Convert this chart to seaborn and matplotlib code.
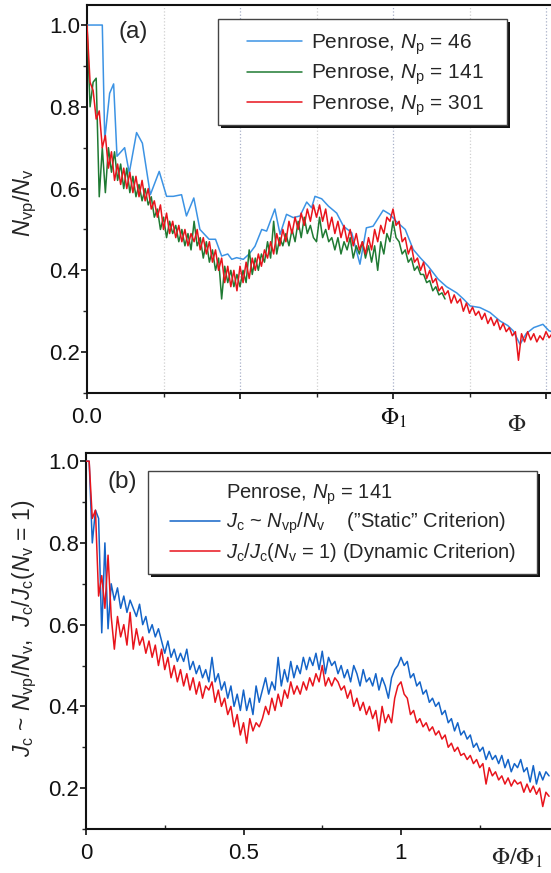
import numpy as np
import pandas as pd
import matplotlib
matplotlib.use("Agg")
import matplotlib.pyplot as plt
import seaborn as sns
from matplotlib.patches import Rectangle
from matplotlib.lines import Line2D

# ---------------- data ----------------
# panel (a): Penrose, Np = 46 (irregular x)
blue_a_x = [0.0, 0.022, 0.050, 0.058, 0.074, 0.087, 0.098, 0.123, 0.138, 0.162,
            0.181, 0.207, 0.236, 0.260, 0.282, 0.309, 0.325, 0.349, 0.369, 0.399,
            0.420, 0.440, 0.460, 0.473, 0.489, 0.511, 0.530, 0.549, 0.571, 0.587,
            0.614, 0.631, 0.652, 0.674, 0.696, 0.718, 0.734, 0.745, 0.767, 0.789,
            0.816, 0.838, 0.865, 0.892, 0.913, 0.935, 0.968, 0.990, 1.010, 1.040,
            1.066, 1.090, 1.115, 1.148, 1.175, 1.208, 1.230, 1.252, 1.284, 1.317,
            1.350, 1.375, 1.393, 1.415, 1.435, 1.460, 1.490, 1.510, 1.520]
blue_a_y = [1.0, 1.0, 1.0, 0.72, 0.833, 0.856, 0.679, 0.70, 0.638, 0.737,
            0.711, 0.585, 0.642, 0.581, 0.581, 0.585, 0.533, 0.577, 0.50, 0.476,
            0.476, 0.435, 0.44, 0.427, 0.431, 0.427, 0.44, 0.459, 0.50, 0.496,
            0.55, 0.488, 0.537, 0.529, 0.533, 0.567, 0.553, 0.581, 0.575, 0.557,
            0.54, 0.508, 0.492, 0.415, 0.504, 0.508, 0.547, 0.537, 0.52, 0.50,
            0.451, 0.43, 0.41, 0.378, 0.36, 0.345, 0.33, 0.313, 0.309, 0.297,
            0.276, 0.265, 0.252, 0.219, 0.245, 0.26, 0.268, 0.252, 0.25]

# panel (a): Penrose, Np = 141 (x step 0.01 from 0)
green_a = [1.00, 0.80, 0.86, 0.87, 0.58, 0.70, 0.59, 0.70, 0.64, 0.69,
           0.62, 0.66, 0.60, 0.65, 0.59, 0.63, 0.58, 0.61, 0.57, 0.60,
           0.56, 0.58, 0.53, 0.55, 0.50, 0.53, 0.48, 0.52, 0.49, 0.51,
           0.47, 0.50, 0.46, 0.49, 0.45, 0.52, 0.46, 0.48, 0.43, 0.47,
           0.42, 0.45, 0.40, 0.43, 0.33, 0.41, 0.37, 0.40, 0.36, 0.39,
           0.36, 0.40, 0.37, 0.45, 0.39, 0.43, 0.40, 0.44, 0.42, 0.47,
           0.43, 0.52, 0.44, 0.48, 0.46, 0.49, 0.46, 0.50, 0.47, 0.52,
           0.48, 0.53, 0.49, 0.51, 0.48, 0.47, 0.53, 0.48, 0.50, 0.47,
           0.48, 0.45, 0.48, 0.44, 0.47, 0.45, 0.48, 0.43, 0.46, 0.44,
           0.47, 0.43, 0.46, 0.42, 0.46, 0.40, 0.47, 0.44, 0.49, 0.47,
           0.52, 0.48, 0.47, 0.44, 0.45, 0.42, 0.43, 0.40, 0.41, 0.39,
           0.39, 0.37, 0.375, 0.35, 0.36, 0.34, 0.345, 0.33]

# panel (a): Penrose, Np = 301 (x step 0.01 from 0)
red_a = [1.00, 0.86, 0.84, 0.77, 0.79, 0.70, 0.73, 0.65, 0.69, 0.62,
         0.66, 0.61, 0.65, 0.60, 0.64, 0.59, 0.63, 0.58, 0.62, 0.57,
         0.60, 0.55, 0.57, 0.53, 0.56, 0.50, 0.54, 0.49, 0.52, 0.48,
         0.51, 0.47, 0.50, 0.46, 0.49, 0.47, 0.50, 0.45, 0.48, 0.44,
         0.47, 0.42, 0.45, 0.40, 0.43, 0.37, 0.41, 0.36, 0.40, 0.35,
         0.41, 0.37, 0.42, 0.38, 0.43, 0.40, 0.44, 0.41, 0.45, 0.43,
         0.47, 0.44, 0.49, 0.46, 0.50, 0.47, 0.52, 0.49, 0.53, 0.50,
         0.54, 0.51, 0.55, 0.52, 0.56, 0.53, 0.56, 0.52, 0.55, 0.50,
         0.53, 0.49, 0.52, 0.48, 0.51, 0.47, 0.50, 0.46, 0.49, 0.45,
         0.47, 0.44, 0.48, 0.45, 0.50, 0.47, 0.51, 0.49, 0.53, 0.52,
         0.55, 0.51, 0.52, 0.47, 0.48, 0.44, 0.46, 0.42, 0.43, 0.40,
         0.42, 0.38, 0.40, 0.37, 0.38, 0.35, 0.36, 0.34, 0.35, 0.32,
         0.34, 0.32, 0.33, 0.30, 0.32, 0.295, 0.31, 0.29, 0.30, 0.28,
         0.295, 0.27, 0.285, 0.265, 0.28, 0.255, 0.27, 0.25, 0.26, 0.24,
         0.25, 0.18, 0.245, 0.225, 0.25, 0.23, 0.245, 0.225, 0.24, 0.23,
         0.25, 0.235, 0.245]

# panel (b): Np = 141, static and dynamic criteria (x step 0.01 from 0)
blue_b = [1.00, 1.00, 0.80, 0.88, 0.86, 0.58, 0.80, 0.59, 0.70, 0.66,
          0.69, 0.64, 0.67, 0.63, 0.66, 0.64, 0.62, 0.65, 0.60, 0.62,
          0.58, 0.60, 0.57, 0.59, 0.56, 0.53, 0.56, 0.52, 0.54, 0.51,
          0.53, 0.51, 0.54, 0.49, 0.51, 0.48, 0.50, 0.47, 0.49, 0.46,
          0.52, 0.46, 0.48, 0.44, 0.46, 0.42, 0.45, 0.40, 0.43, 0.39,
          0.44, 0.39, 0.42, 0.38, 0.45, 0.41, 0.44, 0.47, 0.43, 0.46,
          0.44, 0.52, 0.45, 0.49, 0.46, 0.51, 0.47, 0.50, 0.48, 0.52,
          0.49, 0.52, 0.50, 0.53, 0.49, 0.535, 0.48, 0.52, 0.50, 0.51,
          0.48, 0.50, 0.47, 0.49, 0.46, 0.50, 0.48, 0.45, 0.49, 0.46,
          0.47, 0.45, 0.48, 0.44, 0.47, 0.45, 0.42, 0.47, 0.49, 0.50,
          0.52, 0.50, 0.51, 0.47, 0.48, 0.45, 0.46, 0.43, 0.44, 0.41,
          0.42, 0.40, 0.41, 0.38, 0.39, 0.36, 0.37, 0.34, 0.36, 0.33,
          0.34, 0.32, 0.33, 0.30, 0.31, 0.29, 0.30, 0.27, 0.29, 0.27,
          0.28, 0.26, 0.28, 0.25, 0.27, 0.24, 0.26, 0.25, 0.27, 0.24,
          0.25, 0.215, 0.255, 0.21, 0.24, 0.22, 0.24, 0.23]
red_b = [1.00, 1.00, 0.86, 0.88, 0.67, 0.72, 0.64, 0.77, 0.62, 0.54,
         0.62, 0.57, 0.60, 0.55, 0.63, 0.54, 0.59, 0.55, 0.57, 0.53,
         0.56, 0.52, 0.55, 0.50, 0.54, 0.49, 0.52, 0.47, 0.50, 0.46,
         0.49, 0.45, 0.48, 0.44, 0.47, 0.43, 0.46, 0.42, 0.45, 0.44,
         0.46, 0.41, 0.44, 0.40, 0.42, 0.38, 0.40, 0.35, 0.38, 0.33,
         0.36, 0.31, 0.37, 0.34, 0.36, 0.35, 0.37, 0.40, 0.38, 0.42,
         0.39, 0.43, 0.40, 0.44, 0.42, 0.46, 0.43, 0.45, 0.43, 0.46,
         0.44, 0.47, 0.45, 0.48, 0.46, 0.50, 0.45, 0.47, 0.45, 0.47,
         0.46, 0.44, 0.45, 0.42, 0.44, 0.40, 0.42, 0.39, 0.41, 0.38,
         0.40, 0.37, 0.39, 0.34, 0.40, 0.36, 0.38, 0.36, 0.42, 0.45,
         0.46, 0.43, 0.42, 0.38, 0.39, 0.36, 0.37, 0.35, 0.36, 0.34,
         0.35, 0.33, 0.34, 0.32, 0.33, 0.30, 0.31, 0.29, 0.30, 0.28,
         0.285, 0.27, 0.28, 0.26, 0.27, 0.25, 0.26, 0.21, 0.25, 0.23,
         0.24, 0.22, 0.23, 0.21, 0.225, 0.205, 0.22, 0.21, 0.215, 0.19,
         0.21, 0.19, 0.205, 0.185, 0.20, 0.155, 0.19, 0.18]
x_step = 0.01

labels_a = [r"Penrose, $N_\mathrm{p}$ = 46", r"Penrose, $N_\mathrm{p}$ = 141",
            r"Penrose, $N_\mathrm{p}$ = 301"]
labels_b = [r"Penrose, $N_\mathrm{p}$ = 141",
            r"$J_\mathrm{c}$ ~ $N_\mathrm{vp}/N_\mathrm{v}$    (”Static” Criterion)",
            r"$J_\mathrm{c}/J_\mathrm{c}(N_\mathrm{v}$ = 1) (Dynamic Criterion)"]

# ---------------- style ----------------
sns.set_theme(style="ticks")
plt.rcParams['font.family'] = ['Liberation Sans', 'DejaVu Sans']
plt.rcParams['mathtext.fontset'] = 'custom'
plt.rcParams['mathtext.rm'] = 'Liberation Sans'
plt.rcParams['mathtext.it'] = 'Liberation Sans:italic'
plt.rcParams['mathtext.bf'] = 'Liberation Sans:bold'

C_BLUE_A = "#3c93e4"
C_GREEN = "#1f7a33"
C_RED = "#e8141c"
C_BLUE_B = "#1464c8"

W, H = 551, 873
fig = plt.figure(figsize=(W / 100, H / 100), dpi=100)


def fx(px):
    return px / W


def fy(py):
    return 1 - py / H


ax1 = fig.add_axes([fx(87), fy(393), fx(551) - fx(87), fy(5) - fy(393)])
ax2 = fig.add_axes([fx(86), fy(829), fx(551) - fx(86), fy(453) - fy(829)])

df_blue_a = pd.DataFrame({"phi": blue_a_x, "v": blue_a_y})
df_green_a = pd.DataFrame({"phi": np.arange(len(green_a)) * x_step, "v": green_a})
df_red_a = pd.DataFrame({"phi": np.arange(len(red_a)) * x_step, "v": red_a})
df_blue_b = pd.DataFrame({"phi": np.arange(len(blue_b)) * x_step, "v": blue_b})
df_red_b = pd.DataFrame({"phi": np.arange(len(red_b)) * x_step, "v": red_b})

lw = 1.1
sns.lineplot(data=df_blue_a, x="phi", y="v", ax=ax1, color=C_BLUE_A, lw=lw, zorder=3)
sns.lineplot(data=df_green_a, x="phi", y="v", ax=ax1, color=C_GREEN, lw=lw, zorder=3)
sns.lineplot(data=df_red_a, x="phi", y="v", ax=ax1, color=C_RED, lw=lw, zorder=3)
sns.lineplot(data=df_blue_b, x="phi", y="v", ax=ax2, color=C_BLUE_B, lw=lw, zorder=3)
sns.lineplot(data=df_red_b, x="phi", y="v", ax=ax2, color=C_RED, lw=lw, zorder=3)

# vertical dotted guides in (a)
for xv in [0.25, 0.75, 1.25]:
    ax1.axvline(xv, ls=":", color="#d0d0d0", lw=0.9, zorder=1)
for xv in [0.5, 1.0, 1.5]:
    ax1.axvline(xv, ls=":", color="#a8b0c8", lw=0.9, zorder=1)

ax1.set_xlim(0, (551 - 87) / 306)
ax1.set_ylim(0.1, 1.049)
ax2.set_xlim(0, (551 - 86) / 315)
ax2.set_ylim(0.1, 1.02)

yt = [0.2, 0.4, 0.6, 0.8, 1.0]
ytl = ["0.2", "0.4", "0.6", "0.8", "1.0"]
for ax in (ax1, ax2):
    ax.set_xlabel("")
    ax.set_ylabel("")
    ax.set_yticks(yt)
    ax.set_yticklabels(ytl)
    ax.set_yticks([0.1, 0.3, 0.5, 0.7, 0.9], minor=True)
    ax.set_xticks([0.25, 0.75, 1.25], minor=True)
    ax.spines["right"].set_visible(False)
    for s in ("top", "left", "bottom"):
        ax.spines[s].set_linewidth(1.5)
        ax.spines[s].set_color("#111111")
    ax.tick_params(axis="both", which="major", length=4, width=1.2,
                   direction="out", labelsize=16, colors="#111111")
    ax.tick_params(axis="both", which="minor", length=3, width=1.0,
                   direction="out")
    ax.tick_params(axis="y", pad=1)
    ax.tick_params(axis="x", pad=6)

ax2.tick_params(axis="x", which="minor", direction="in")

ax1.set_xticks([0, 0.5, 1.0, 1.5])
ax1.set_xticklabels(["0.0", "", r"$\Phi_1$", ""])
ax1.get_xticklabels()[2].set_math_fontfamily("stix")
ax1.get_xticklabels()[2].set_fontsize(17)

ax2.set_xticks([0, 0.5, 1.0])
ax2.set_xticklabels(["0", "0.5", "1"])

# axis titles / panel labels
fig.text(fx(517), fy(425), r"$\Phi$", fontsize=17, math_fontfamily="stix",
         ha="center", va="center")
fig.text(fx(517), fy(858), r"$\Phi/\Phi_1$", fontsize=17, math_fontfamily="stix",
         ha="center", va="center")
fig.text(fx(25), fy(203), r"$N_\mathrm{vp}/N_\mathrm{v}$", fontsize=17,
         rotation=90, ha="center", va="center")
fig.text(fx(25), fy(628),
         r"$J_\mathrm{c}$ ~ $N_\mathrm{vp}/N_\mathrm{v}$,  $J_\mathrm{c}/J_\mathrm{c}(N_\mathrm{v}$ = 1)",
         fontsize=16.5, rotation=90, ha="center", va="center")
fig.text(fx(133), fy(32), "(a)", fontsize=17.5, ha="center", va="center")
fig.text(fx(122), fy(482), "(b)", fontsize=17.5, ha="center", va="center")


# legend frames with shadow
def framed_box(x0, y0, x1, y1):
    sh = Rectangle((fx(x0 + 3), fy(y1 + 3)), fx(x1) - fx(x0), fy(y0) - fy(y1),
                   transform=fig.transFigure, facecolor="#111111", edgecolor="none",
                   zorder=3)
    bx = Rectangle((fx(x0), fy(y1)), fx(x1) - fx(x0), fy(y0) - fy(y1),
                   transform=fig.transFigure, facecolor="white", edgecolor="#444444",
                   lw=1.0, zorder=4)
    fig.add_artist(sh)
    fig.add_artist(bx)


framed_box(218, 19, 507, 125)
framed_box(148, 471, 537, 574)

h_a = [Line2D([], [], color=C_BLUE_A, lw=lw), Line2D([], [], color=C_GREEN, lw=lw),
       Line2D([], [], color=C_RED, lw=lw)]
leg1 = fig.legend(h_a, labels_a, loc="upper left", bbox_to_anchor=(fx(247), fy(32)),
                  bbox_transform=fig.transFigure, frameon=False, borderpad=0,
                  borderaxespad=0, handlelength=2.65, handletextpad=0.4,
                  labelspacing=0.3, fontsize=15)
leg1.set_zorder(5)

h_b = [Line2D([], [], color="none", lw=lw), Line2D([], [], color=C_BLUE_B, lw=lw),
       Line2D([], [], color=C_RED, lw=lw)]
leg2 = fig.legend(h_b, labels_b, loc="upper left", bbox_to_anchor=(fx(170), fy(482)),
                  bbox_transform=fig.transFigure, frameon=False, borderpad=0,
                  borderaxespad=0, handlelength=2.5, handletextpad=0.3,
                  labelspacing=0.22, fontsize=14.5)
leg2.set_zorder(5)

fig.savefig("out.png", dpi=100)
